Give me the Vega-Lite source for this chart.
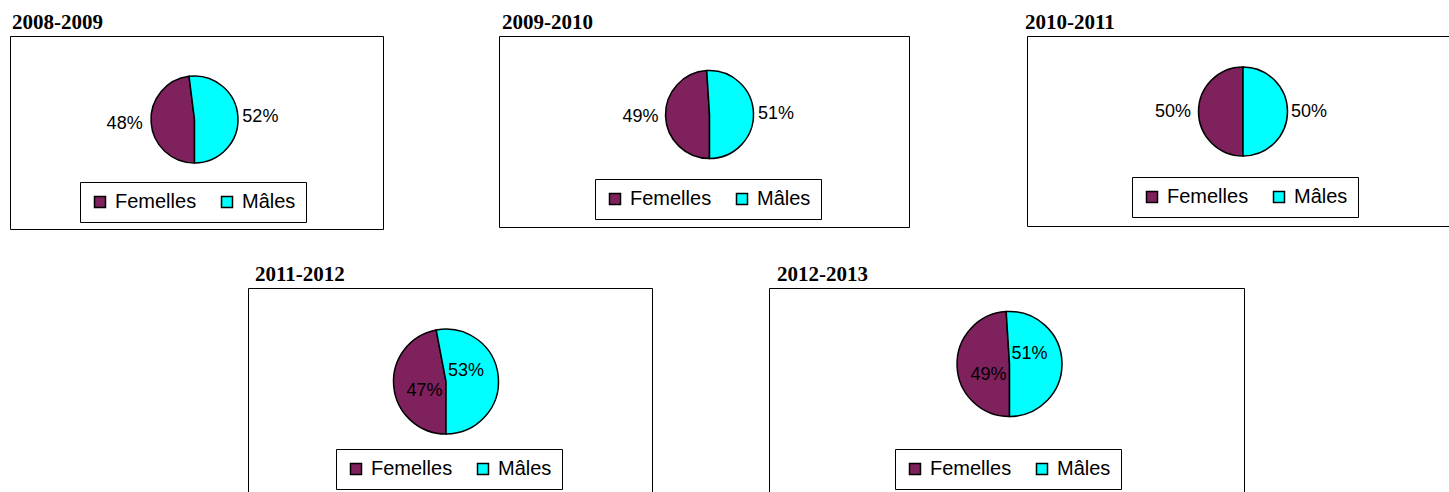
{
  "$schema": "https://vega.github.io/schema/vega-lite/v6.json",
  "background": "white",
  "padding": {"left": 9, "top": 11, "right": 0, "bottom": 0},
  "datasets": {
    "d": [
      {"annee": "2008-2009", "sexe": "Femelles", "pct": 0.48},
      {"annee": "2008-2009", "sexe": "Mâles", "pct": 0.52},
      {"annee": "2009-2010", "sexe": "Femelles", "pct": 0.49},
      {"annee": "2009-2010", "sexe": "Mâles", "pct": 0.51},
      {"annee": "2010-2011", "sexe": "Femelles", "pct": 0.50},
      {"annee": "2010-2011", "sexe": "Mâles", "pct": 0.50},
      {"annee": "2011-2012", "sexe": "Femelles", "pct": 0.47},
      {"annee": "2011-2012", "sexe": "Mâles", "pct": 0.53},
      {"annee": "2012-2013", "sexe": "Femelles", "pct": 0.49},
      {"annee": "2012-2013", "sexe": "Mâles", "pct": 0.51}
    ]
  },
  "vconcat": [
    {
      "hconcat": [
        {
          "width": 373, "height": 193,
          "view": {"stroke": "black", "strokeWidth": 1},
          "title": {"text": "2008-2009", "anchor": "start", "offset": 3, "dx": 2},
          "data": {"name": "d"},
          "transform": [{"filter": "datum.annee === '2008-2009'"}],
          "layer": [
            {"mark": {"type": "point", "opacity": 0, "size": 0},
             "encoding": {"x": {"field": "pct", "type": "quantitative", "axis": null, "scale": {"domain": [0, 1]}}, "y": {"field": "pct", "type": "quantitative", "axis": null, "scale": {"domain": [0, 1]}}}},
            {"mark": {"type": "arc", "outerRadius": 43.5, "stroke": "black", "strokeWidth": 1.5, "xOffset": -2, "yOffset": -13},
             "encoding": {
               "theta": {"field": "pct", "type": "quantitative", "stack": true, "scale": {"range": [3.14159265, 9.42477796]}},
               "order": {"field": "sexe", "type": "ordinal", "sort": "ascending"},
               "color": {"field": "sexe", "type": "nominal", "scale": {"domain": ["Femelles", "Mâles"], "range": ["#7f215d", "#00ffff"]}, "legend": {"title": null, "legendX": 70, "legendY": 146}}}},
            {"mark": {"type": "text", "radius": 70, "xOffset": -2, "yOffset": -13},
             "encoding": {
               "theta": {"field": "pct", "type": "quantitative", "stack": true},
               "order": {"field": "sexe", "type": "ordinal", "sort": "ascending"},
               "text": {"condition": {"test": "datum.sexe === 'Femelles'", "field": "pct", "type": "quantitative", "format": ".0%"}, "value": ""}}},
            {"mark": {"type": "text", "radius": 66, "xOffset": -2, "yOffset": -13, "dy": 2},
             "encoding": {
               "theta": {"field": "pct", "type": "quantitative", "stack": true},
               "order": {"field": "sexe", "type": "ordinal", "sort": "ascending"},
               "text": {"condition": {"test": "datum.sexe === 'Mâles'", "field": "pct", "type": "quantitative", "format": ".0%"}, "value": ""}}}
          ]
        },
        {
          "width": 410, "height": 191,
          "view": {"stroke": "black", "strokeWidth": 1},
          "title": {"text": "2009-2010", "anchor": "start", "offset": 3, "dx": 3},
          "data": {"name": "d"},
          "transform": [{"filter": "datum.annee === '2009-2010'"}],
          "layer": [
            {"mark": {"type": "point", "opacity": 0, "size": 0},
             "encoding": {"x": {"field": "pct", "type": "quantitative", "axis": null, "scale": {"domain": [0, 1]}}, "y": {"field": "pct", "type": "quantitative", "axis": null, "scale": {"domain": [0, 1]}}}},
            {"mark": {"type": "arc", "outerRadius": 44, "stroke": "black", "strokeWidth": 1.5, "xOffset": 5.5, "yOffset": -17},
             "encoding": {
               "theta": {"field": "pct", "type": "quantitative", "stack": true, "scale": {"range": [3.14159265, 9.42477796]}},
               "order": {"field": "sexe", "type": "ordinal", "sort": "ascending"},
               "color": {"field": "sexe", "type": "nominal", "scale": {"domain": ["Femelles", "Mâles"], "range": ["#7f215d", "#00ffff"]}, "legend": {"title": null, "legendX": 96, "legendY": 143}}}},
            {"mark": {"type": "text", "radius": 69, "xOffset": 5.5, "yOffset": -17},
             "encoding": {
               "theta": {"field": "pct", "type": "quantitative", "stack": true},
               "order": {"field": "sexe", "type": "ordinal", "sort": "ascending"},
               "text": {"condition": {"test": "datum.sexe === 'Femelles'", "field": "pct", "type": "quantitative", "format": ".0%"}, "value": ""}}},
            {"mark": {"type": "text", "radius": 66.5, "xOffset": 5.5, "yOffset": -17, "dy": 2},
             "encoding": {
               "theta": {"field": "pct", "type": "quantitative", "stack": true},
               "order": {"field": "sexe", "type": "ordinal", "sort": "ascending"},
               "text": {"condition": {"test": "datum.sexe === 'Mâles'", "field": "pct", "type": "quantitative", "format": ".0%"}, "value": ""}}}
          ]
        },
        {
          "width": 438, "height": 190,
          "view": {"stroke": "black", "strokeWidth": 1},
          "title": {"text": "2010-2011", "anchor": "start", "offset": 3, "dx": -2},
          "data": {"name": "d"},
          "transform": [{"filter": "datum.annee === '2010-2011'"}],
          "layer": [
            {"mark": {"type": "point", "opacity": 0, "size": 0},
             "encoding": {"x": {"field": "pct", "type": "quantitative", "axis": null, "scale": {"domain": [0, 1]}}, "y": {"field": "pct", "type": "quantitative", "axis": null, "scale": {"domain": [0, 1]}}}},
            {"mark": {"type": "arc", "outerRadius": 44.5, "stroke": "black", "strokeWidth": 1.5, "xOffset": -3, "yOffset": -19.5},
             "encoding": {
               "theta": {"field": "pct", "type": "quantitative", "stack": true, "scale": {"range": [3.14159265, 9.42477796]}},
               "order": {"field": "sexe", "type": "ordinal", "sort": "ascending"},
               "color": {"field": "sexe", "type": "nominal", "scale": {"domain": ["Femelles", "Mâles"], "range": ["#7f215d", "#00ffff"]}, "legend": {"title": null, "legendX": 105, "legendY": 141}}}},
            {"mark": {"type": "text", "radius": 70, "xOffset": -3, "yOffset": -19.5},
             "encoding": {
               "theta": {"field": "pct", "type": "quantitative", "stack": true},
               "order": {"field": "sexe", "type": "ordinal", "sort": "ascending"},
               "text": {"condition": {"test": "datum.sexe === 'Femelles'", "field": "pct", "type": "quantitative", "format": ".0%"}, "value": ""}}},
            {"mark": {"type": "text", "radius": 66, "xOffset": -3, "yOffset": -19.5},
             "encoding": {
               "theta": {"field": "pct", "type": "quantitative", "stack": true},
               "order": {"field": "sexe", "type": "ordinal", "sort": "ascending"},
               "text": {"condition": {"test": "datum.sexe === 'Mâles'", "field": "pct", "type": "quantitative", "format": ".0%"}, "value": ""}}}
          ]
        }
      ],
      "spacing": 114,
      "resolve": {"scale": {"color": "independent", "theta": "independent", "x": "independent", "y": "independent"}, "legend": {"color": "independent"}}
    },
    {
      "hconcat": [
        {
          "width": 122, "height": 10,
          "view": {"stroke": null},
          "data": {"values": [{}]},
          "mark": {"type": "text", "text": ""},
          "encoding": {}
        },
        {
          "width": 404, "height": 215,
          "view": {"stroke": "black", "strokeWidth": 1},
          "title": {"text": "2011-2012", "anchor": "start", "offset": 3, "dx": 7},
          "data": {"name": "d"},
          "transform": [{"filter": "datum.annee === '2011-2012'"}],
          "layer": [
            {"mark": {"type": "point", "opacity": 0, "size": 0},
             "encoding": {"x": {"field": "pct", "type": "quantitative", "axis": null, "scale": {"domain": [0, 1]}}, "y": {"field": "pct", "type": "quantitative", "axis": null, "scale": {"domain": [0, 1]}}}},
            {"mark": {"type": "arc", "outerRadius": 52.5, "stroke": "black", "strokeWidth": 1.5, "xOffset": -4, "yOffset": -14},
             "encoding": {
               "theta": {"field": "pct", "type": "quantitative", "stack": true, "scale": {"range": [3.14159265, 9.42477796]}},
               "order": {"field": "sexe", "type": "ordinal", "sort": "ascending"},
               "color": {"field": "sexe", "type": "nominal", "scale": {"domain": ["Femelles", "Mâles"], "range": ["#7f215d", "#00ffff"]}, "legend": {"title": null, "legendX": 88, "legendY": 161}}}},
            {"mark": {"type": "text", "radius": 20, "xOffset": -4, "yOffset": -14, "dx": -1.5, "dy": 8},
             "encoding": {
               "theta": {"field": "pct", "type": "quantitative", "stack": true},
               "order": {"field": "sexe", "type": "ordinal", "sort": "ascending"},
               "text": {"condition": {"test": "datum.sexe === 'Femelles'", "field": "pct", "type": "quantitative", "format": ".0%"}, "value": ""}}},
            {"mark": {"type": "text", "radius": 20, "xOffset": -4, "yOffset": -14, "dy": -9},
             "encoding": {
               "theta": {"field": "pct", "type": "quantitative", "stack": true},
               "order": {"field": "sexe", "type": "ordinal", "sort": "ascending"},
               "text": {"condition": {"test": "datum.sexe === 'Mâles'", "field": "pct", "type": "quantitative", "format": ".0%"}, "value": ""}}}
          ]
        },
        {
          "width": 475, "height": 215,
          "view": {"stroke": "black", "strokeWidth": 1},
          "title": {"text": "2012-2013", "anchor": "start", "offset": 3, "dx": 8},
          "data": {"name": "d"},
          "transform": [{"filter": "datum.annee === '2012-2013'"}],
          "layer": [
            {"mark": {"type": "point", "opacity": 0, "size": 0},
             "encoding": {"x": {"field": "pct", "type": "quantitative", "axis": null, "scale": {"domain": [0, 1]}}, "y": {"field": "pct", "type": "quantitative", "axis": null, "scale": {"domain": [0, 1]}}}},
            {"mark": {"type": "arc", "outerRadius": 52.5, "stroke": "black", "strokeWidth": 1.5, "xOffset": 3, "yOffset": -31.5},
             "encoding": {
               "theta": {"field": "pct", "type": "quantitative", "stack": true, "scale": {"range": [3.14159265, 9.42477796]}},
               "order": {"field": "sexe", "type": "ordinal", "sort": "ascending"},
               "color": {"field": "sexe", "type": "nominal", "scale": {"domain": ["Femelles", "Mâles"], "range": ["#7f215d", "#00ffff"]}, "legend": {"title": null, "legendX": 126, "legendY": 161}}}},
            {"mark": {"type": "text", "radius": 20, "xOffset": 3, "yOffset": -31.5, "dx": -1, "dy": 10.5},
             "encoding": {
               "theta": {"field": "pct", "type": "quantitative", "stack": true},
               "order": {"field": "sexe", "type": "ordinal", "sort": "ascending"},
               "text": {"condition": {"test": "datum.sexe === 'Femelles'", "field": "pct", "type": "quantitative", "format": ".0%"}, "value": ""}}},
            {"mark": {"type": "text", "radius": 20, "xOffset": 3, "yOffset": -31.5, "dy": -9.5},
             "encoding": {
               "theta": {"field": "pct", "type": "quantitative", "stack": true},
               "order": {"field": "sexe", "type": "ordinal", "sort": "ascending"},
               "text": {"condition": {"test": "datum.sexe === 'Mâles'", "field": "pct", "type": "quantitative", "format": ".0%"}, "value": ""}}}
          ]
        }
      ],
      "spacing": 115,
      "resolve": {"scale": {"color": "independent", "theta": "independent", "x": "independent", "y": "independent"}, "legend": {"color": "independent"}}
    }
  ],
  "spacing": 33,
  "resolve": {"scale": {"color": "independent", "theta": "independent", "x": "independent", "y": "independent"}, "legend": {"color": "independent"}},
  "config": {
    "view": {"stroke": "black", "strokeWidth": 1},
    "title": {"font": "Liberation Serif", "fontWeight": "bold", "fontSize": 21, "color": "black"},
    "text": {"font": "Liberation Sans", "fontSize": 18, "color": "black", "align": "center", "baseline": "middle"},
    "legend": {
      "orient": "none",
      "direction": "horizontal",
      "strokeColor": "black",
      "fillColor": "white",
      "padding": 10,
      "labelFont": "Liberation Sans",
      "labelFontSize": 20,
      "labelColor": "black",
      "labelOffset": 5,
      "columnPadding": 20,
      "symbolType": "square",
      "symbolSize": 121,
      "symbolStrokeColor": "black",
      "symbolStrokeWidth": 1.5,
      "symbolOpacity": 1
    }
  }
}
